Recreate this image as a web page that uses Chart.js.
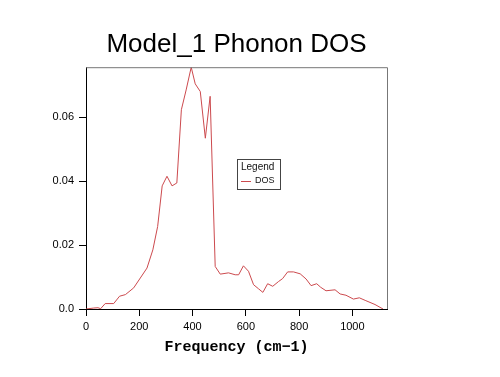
<!DOCTYPE html>
<html>
<head>
<meta charset="utf-8">
<script src="https://cdn.jsdelivr.net/npm/chart.js@4"></script>
<style>
  html, body { margin: 0; padding: 0; background: #fff; }
  #wrap { width: 500px; height: 377px; }
</style>
</head>
<body>
<div id="wrap"><canvas id="dosChart" width="500" height="377"></canvas></div>
<script>
// Frequency (cm-1) and DOS values
const frequency = [0, 29, 45, 55, 72, 104, 126, 148, 179, 204, 229, 251, 269, 286, 304, 323, 341, 358, 376, 395, 410, 429, 448, 466, 485, 504, 535, 560, 573, 591, 610, 629, 648, 664, 682, 701, 723, 738, 757, 779, 804, 826, 845, 866, 881, 901, 935, 954, 976, 1004, 1026, 1048, 1085, 1115];
const dos = [0, 0.0003, 0.0004, 0.0001, 0.0017, 0.0017, 0.004, 0.0045, 0.0066, 0.0097, 0.0128, 0.0185, 0.0258, 0.0385, 0.0415, 0.0385, 0.0394, 0.0623, 0.0685, 0.0756, 0.0704, 0.068, 0.0534, 0.0665, 0.0133, 0.0109, 0.0113, 0.0107, 0.0107, 0.0135, 0.0118, 0.0076, 0.0063, 0.0052, 0.0079, 0.0071, 0.0086, 0.0095, 0.0116, 0.0116, 0.011, 0.0094, 0.0073, 0.0079, 0.0068, 0.0057, 0.006, 0.0047, 0.0043, 0.0031, 0.0035, 0.0027, 0.0014, 0];
const xTicks = [0, 200, 400, 600, 800, 1000];
const yTicks = [0, 0.02, 0.04, 0.06];
const yTickLabels = ['0.0', '0.02', '0.04', '0.06'];

const lineColor = '#cc4a4e';

// grey top/right frame and the little legend box inside the plot
const framePlugin = {
  id: 'frame',
  afterDraw(chart) {
    const ctx = chart.ctx;
    const a = chart.chartArea;
    ctx.save();
    ctx.strokeStyle = '#777';
    ctx.lineWidth = 1;
    ctx.beginPath();
    ctx.moveTo(a.left, a.top + 0.5);
    ctx.lineTo(a.right + 0.5, a.top + 0.5);
    ctx.lineTo(a.right + 0.5, a.bottom);
    ctx.stroke();

    // legend
    const lx = 237, ly = 159, lw = 43, lh = 30;
    ctx.fillStyle = '#fff';
    ctx.fillRect(lx, ly, lw, lh);
    ctx.strokeStyle = '#444';
    ctx.strokeRect(lx + 0.5, ly + 0.5, lw, lh);
    ctx.fillStyle = '#111';
    ctx.font = '10px "Liberation Sans", Arial, sans-serif';
    ctx.textBaseline = 'middle';
    ctx.fillText('Legend', lx + 4, ly + 8);
    ctx.strokeStyle = lineColor;
    ctx.beginPath();
    ctx.moveTo(lx + 4, ly + 22.5);
    ctx.lineTo(lx + 14, ly + 22.5);
    ctx.stroke();
    ctx.font = '9px "Liberation Sans", Arial, sans-serif';
    ctx.fillText('DOS', lx + 18, ly + 22);
    ctx.restore();
  }
};

const points = frequency.map((f, i) => ({ x: f, y: dos[i] }));

new Chart(document.getElementById('dosChart'), {
  type: 'line',
  data: {
    datasets: [{
      label: 'DOS',
      data: points,
      borderColor: lineColor,
      borderWidth: 1,
      pointRadius: 0,
      tension: 0,
      fill: false
    }]
  },
  options: {
    responsive: false,
    animation: false,
    layout: { padding: { left: 0, right: 27, top: 0, bottom: 0 } },
    plugins: {
      legend: { display: false },
      tooltip: { enabled: false },
      title: {
        display: true,
        text: 'Model_1 Phonon DOS',
        color: '#000',
        font: { family: '"Liberation Sans", Arial, sans-serif', size: 26, weight: 'normal', lineHeight: 1.2 },
        padding: { top: 29, bottom: 7 }
      }
    },
    scales: {
      x: {
        type: 'linear',
        min: 0,
        max: 1130,
        afterFit(scale) { scale.height = 68; },
        afterBuildTicks(scale) { scale.ticks = xTicks.map(v => ({ value: v })); },
        border: { display: true, color: '#000', width: 1 },
        grid: { drawOnChartArea: false, tickLength: 7, color: '#000' },
        ticks: {
          color: '#000',
          padding: 4,
          maxRotation: 0,
          font: { family: '"Liberation Sans", Arial, sans-serif', size: 11 },
          callback: (v) => String(v)
        },
        title: {
          display: true,
          text: 'Frequency (cm\u22121)',
          color: '#000',
          font: { family: '"Liberation Mono", "DejaVu Sans Mono", monospace', size: 15, weight: 'bold', lineHeight: 1.2 },
          padding: { top: 4, bottom: 21 }
        }
      },
      y: {
        type: 'linear',
        min: 0,
        max: 0.0756,
        afterFit(scale) { scale.width = 86; },
        afterBuildTicks(scale) { scale.ticks = yTicks.map(v => ({ value: v })); },
        border: { display: true, color: '#000', width: 1 },
        grid: { drawOnChartArea: false, tickLength: 7, color: '#000' },
        ticks: {
          color: '#000',
          padding: 5,
          font: { family: '"Liberation Sans", Arial, sans-serif', size: 11 },
          callback: (v) => {
            const i = yTicks.indexOf(v);
            return i >= 0 ? yTickLabels[i] : '';
          }
        }
      },
      // empty right-hand axis, only to leave the blank space at the right
      yRight: {
        type: 'linear',
        position: 'right',
        display: true,
        min: 0,
        max: 0.0756,
        afterFit(scale) { scale.width = 86; },
        border: { display: false },
        grid: { display: false },
        ticks: { display: false }
      }
    }
  },
  plugins: [framePlugin]
});
</script>
</body>
</html>
